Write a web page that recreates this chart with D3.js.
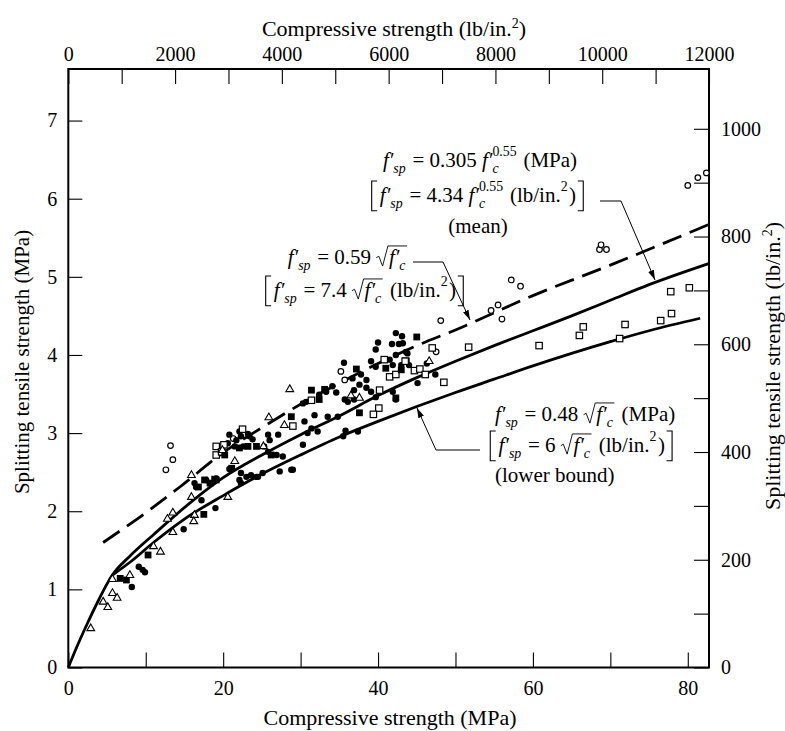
<!DOCTYPE html>
<html><head><meta charset="utf-8">
<script src="https://cdn.jsdelivr.net/npm/d3@7"></script>
<style>
body{margin:0;background:#fff;}
svg{display:block;}
text{font-family:"Liberation Serif","Times New Roman",serif;fill:#000;white-space:pre;}
</style>
</head><body>
<svg id="chart" width="785" height="731"></svg>
<script>
// ---------- data (MPa unless noted) ----------
const xTicksMPa = [0, 20, 40, 60, 80];
const xMinorMPa = [10, 30, 50, 70];
const xTicksPsi = [0, 2000, 4000, 6000, 8000, 10000, 12000];
const xMinorPsi = [1000, 3000, 5000, 7000, 9000, 11000];
const yTicksMPa = [0, 1, 2, 3, 4, 5, 6, 7];
const yTicksPsi = [0, 200, 400, 600, 800, 1000];
const yMinorPsi = [100, 300, 500, 700, 900];

const meanCurve = [[0,0],[1,0.24],[2.4,0.55],[4,0.88],[5.6,1.17],[8,1.43],[11,1.7],[16,2.13],[20,2.43],[25,2.72],[30,2.98],[35,3.22],[40,3.48],[45,3.71],[50,3.92],[55,4.12],[60,4.31],[65,4.5],[70,4.7],[75,4.9],[82.7,5.17]];
const lowerCurve = [[5.8,1.19],[8,1.35],[11,1.6],[15,1.9],[20,2.2],[24.7,2.46],[30,2.72],[35,2.95],[40,3.15],[45,3.34],[50,3.52],[55,3.69],[60,3.86],[65,4.02],[70,4.17],[75,4.31],[81.6,4.47]];
const dashedCurve = [[4.5,1.6],[10,1.98],[14.4,2.31],[20,2.75],[25,3.07],[30,3.37],[35,3.64],[40,3.89],[45,4.12],[50,4.32],[60,4.76],[70,5.15],[82.7,5.67]];

const openCircles = [[12.6,2.53],[13.2,2.84],[13.5,2.66],[21.3,2.93],[35.2,3.79],[35.7,3.68],[47.5,4.04],[48.1,4.44],[54.6,4.57],[55.5,4.64],[56.0,4.46],[57.2,4.96],[58.4,4.88],[68.6,5.35],[68.8,5.41],[69.5,5.35],[80.0,6.17],[81.3,6.27],[82.4,6.33]];
const triangles = [[2.9,0.5],[4.5,0.84],[5.1,0.77],[5.7,0.95],[6.3,0.89],[5.7,1.13],[7.95,1.18],[11.0,1.55],[11.9,1.48],[12.8,1.9],[13.5,1.98],[13.5,1.73],[15.9,2.18],[16.3,1.95],[16.2,1.87],[15.9,2.46],[20.6,2.18],[21.5,2.64],[19.9,2.78],[25.2,2.83],[25.9,3.2],[27.9,3.1],[28.6,3.56],[36.5,3.48],[37.6,3.45],[46.6,3.92]];
const filledCircles = [[8.2,1.03],[9.1,1.29],[9.6,1.25],[9.9,1.22],[14.9,1.77],[17.2,2.14],[19.0,2.04],[16.3,2.36],[16.5,2.31],[17.8,2.4],[19.1,2.42],[20.8,2.98],[21.7,2.91],[22.3,2.96],[23.2,2.99],[23.8,2.92],[22.3,2.49],[23.0,2.44],[22.3,2.36],[24.3,2.44],[20.8,2.54],
[42.3,4.28],[43.1,4.24],[40.0,4.16],[39.7,4.07],[41.8,4.14],[42.7,4.14],[43.6,4.04],[42.3,4.0],[35.6,3.9],[39.1,3.92],[39.7,3.85],[41.5,3.94],[41.9,3.87],[43.0,3.87],[44.0,3.87],[36.7,3.7],[37.8,3.75],[38.5,3.68],[37.6,3.62],[36.9,3.55],[38.5,3.58],[39.1,3.53],[39.7,3.46],[34.1,3.6],[33.3,3.53],[32.4,3.49],[34.6,3.52],[35.7,3.43],[36.1,3.4],[36.9,3.43],[41.9,3.53],[42.3,3.43],[45.1,3.64],[47.4,3.75],[31.8,3.23],[30.5,3.15],[31.4,3.06],[32.2,3.02],[30.9,3.0],[30.3,2.85],[33.5,3.21],[34.8,3.21],[35.8,3.03],[37.4,3.02],[30.3,3.38],[30.7,3.4],[25.3,2.83],[26.0,2.91],[25.8,2.76],[26.9,2.72],[27.7,2.7],[28.8,2.53],[25.8,2.98],[27.1,2.98],[35.5,2.96],[20.6,2.87],[21.5,2.83],[22.6,2.83],[23.4,2.96],[22.1,3.02],[23.6,2.46],[24.5,2.44],[25.1,2.49],[22.1,2.4],[27.3,2.51],[29.0,2.53],[46.3,3.89],[43.8,4.02],[43.2,4.15]];
const filledSquares = [[6.7,1.14],[7.5,1.12],[10.3,1.44],[17.5,1.96],[21.1,2.55],[18.9,2.41],[20.2,2.72],[24.3,2.83],[45.0,4.23],[37.2,3.82],[41.0,3.83],[43.0,3.81],[31.4,3.55],[33.1,3.56],[32.4,3.43],[37.6,3.26],[28.8,3.21],[42.3,3.45],[22.1,2.81],[23.2,2.83],[17.6,2.4],[18.3,2.36],[19.1,2.4],[16.8,2.31],[26.2,2.72]];
const openSquares = [[19.1,2.83],[19.1,2.72],[20.1,2.85],[19.8,2.76],[22.5,3.05],[31.4,3.42],[29.0,3.09],[40.2,3.55],[40.1,3.32],[39.4,3.24],[40.8,3.94],[41.5,3.72],[42.3,3.75],[43.6,3.92],[44.7,3.8],[45.4,3.82],[46.1,3.75],[43.5,3.92],[47.0,4.09],[48.5,3.65],[51.7,4.1],[60.8,4.12],[66.0,4.25],[66.5,4.36],[71.2,4.21],[71.9,4.39],[76.5,4.44],[77.9,4.53],[77.8,4.81],[80.2,4.86]];

// ---------- setup ----------
const svg = d3.select('#chart');
const FONT = '"Liberation Serif","Times New Roman",serif';
const L = 68.3, R = 709, T = 69, B = 667.5;
const MPA_TO_PSI = 145.038;
const yMax = 7.66;
const x = d3.scaleLinear().domain([0, 82.74]).range([L, R]);
const xPsi = d3.scaleLinear().domain([0, 12000]).range([L, R]);
const y = d3.scaleLinear().domain([0, yMax]).range([B, T]);
const yPsi = d3.scaleLinear().domain([0, yMax * MPA_TO_PSI]).range([B, T]);

function styleAxis(g) {
  g.select('.domain').remove();
  g.attr('font-family', FONT).attr('font-size', 20);
  g.selectAll('line').attr('stroke', '#000').attr('stroke-width', 1.1);
  g.selectAll('text').attr('fill', '#000');
}
const allX = xTicksMPa.concat(xMinorMPa).sort((a,b)=>a-b);
svg.append('g').attr('transform', `translate(0,${B})`)
  .call(d3.axisBottom(x).tickValues(allX).tickSize(-15).tickPadding(13)
    .tickFormat(d => xTicksMPa.includes(d) ? d : ''))
  .call(styleAxis);
const allXp = xTicksPsi.concat(xMinorPsi).sort((a,b)=>a-b);
svg.append('g').attr('transform', `translate(0,${T})`)
  .call(d3.axisTop(xPsi).tickValues(allXp).tickSize(-15).tickPadding(8)
    .tickFormat(d => xTicksPsi.includes(d) ? d : ''))
  .call(styleAxis);
svg.append('g').attr('transform', `translate(${L},0)`)
  .call(d3.axisLeft(y).tickValues(yTicksMPa).tickSize(-14).tickPadding(11))
  .call(styleAxis);
const allYp = yTicksPsi.concat(yMinorPsi).sort((a,b)=>a-b);
svg.append('g').attr('transform', `translate(${R},0)`)
  .call(d3.axisRight(yPsi).tickValues(allYp).tickSize(-15).tickPadding(12)
    .tickFormat(d => yTicksPsi.includes(d) ? d : ''))
  .call(styleAxis);

svg.append('rect').attr('x', L).attr('y', T).attr('width', R - L).attr('height', B - T)
  .attr('fill', 'none').attr('stroke', '#000').attr('stroke-width', 2);

// axis titles
const TS = 22;
const t1 = svg.append('text').attr('x', 394).attr('y', 36).attr('text-anchor', 'middle').attr('font-size', TS);
t1.append('tspan').text('Compressive strength (lb/in.');
t1.append('tspan').attr('dy', -8).attr('font-size', 14).text('2');
t1.append('tspan').attr('dy', 8).text(')');
svg.append('text').attr('x', 390).attr('y', 725).attr('text-anchor', 'middle').attr('font-size', TS)
  .text('Compressive strength (MPa)');
svg.append('text').attr('transform', 'translate(29,362) rotate(-90)').attr('text-anchor', 'middle').attr('font-size', 21)
  .text('Splitting tensile strength (MPa)');
const t4 = svg.append('text').attr('transform', 'translate(780,366) rotate(-90)').attr('text-anchor', 'middle').attr('font-size', TS);
t4.append('tspan').text('Splitting tensile strength (lb/in.');
t4.append('tspan').attr('dy', -8).attr('font-size', 14).text('2');
t4.append('tspan').attr('dy', 8).text(')');

// ---------- curves ----------
const line = d3.line().x(d => x(d[0])).y(d => y(d[1])).curve(d3.curveMonotoneX);
svg.append('path').attr('d', line(meanCurve)).attr('fill', 'none').attr('stroke', '#000').attr('stroke-width', 2.8);
svg.append('path').attr('d', line(lowerCurve)).attr('fill', 'none').attr('stroke', '#000').attr('stroke-width', 2.8);
svg.append('path').attr('d', line(dashedCurve)).attr('fill', 'none').attr('stroke', '#000').attr('stroke-width', 2.8)
  .attr('stroke-dasharray', '20,9');

// ---------- points ----------
const pts = svg.append('g');
pts.selectAll('.oc').data(openCircles).join('circle').attr('cx', d => x(d[0])).attr('cy', d => y(d[1]))
  .attr('r', 2.8).attr('fill', '#fff').attr('stroke', '#000').attr('stroke-width', 1.2);
pts.selectAll('.fc').data(filledCircles).join('circle').attr('cx', d => x(d[0])).attr('cy', d => y(d[1]))
  .attr('r', 3.2).attr('fill', '#000');
pts.selectAll('.os').data(openSquares).join('rect').attr('x', d => x(d[0]) - 3.2).attr('y', d => y(d[1]) - 3.2)
  .attr('width', 6.4).attr('height', 6.4).attr('fill', '#fff').attr('stroke', '#000').attr('stroke-width', 1.2);
pts.selectAll('.fs').data(filledSquares).join('rect').attr('x', d => x(d[0]) - 3.4).attr('y', d => y(d[1]) - 3.4)
  .attr('width', 6.8).attr('height', 6.8).attr('fill', '#000');
const tri = d3.symbol().type(d3.symbolTriangle).size(26);
pts.selectAll('.tr').data(triangles).join('path').attr('d', tri)
  .attr('transform', d => `translate(${x(d[0])},${y(d[1])})`)
  .attr('fill', '#fff').attr('stroke', '#000').attr('stroke-width', 1.1);

// ---------- formula annotations (one text element per line) ----------
const FS = 21;
const meas = svg.append('g').attr('visibility', 'hidden');
function textW(str, size, italic) {
  const t = meas.append('text').attr('font-size', size).style('font-style', italic ? 'italic' : 'normal').text(str);
  const w = t.node().getComputedTextLength(); t.remove(); return w;
}
function layout(pieces, cx0, base, out) {
  let cx = cx0;
  for (const p of pieces) cx += piece(p, cx, base, out);
  return cx - cx0;
}
function piece(p, cx, base, out) {
  if (p.t !== undefined) {
    const w = textW(p.t, FS, p.i);
    out.items.push({x: cx, y: base, size: FS, italic: !!p.i, text: p.t});
    return w + (p.k || 0);
  }
  if (p.sub !== undefined || p.sup !== undefined) {
    const s = FS * 0.66; let w = 0;
    if (p.sub) {
      w = Math.max(w, textW(p.sub, s, true));
      out.items.push({x: cx, y: base + FS * 0.3, size: s, italic: true, text: p.sub});
    }
    if (p.sup) {
      w = Math.max(w, textW(p.sup, s, false));
      out.items.push({x: cx, y: base - FS * 0.52, size: s, italic: false, text: p.sup});
    }
    return w + 1.5;
  }
  if (p.sqrt) {
    const rw = FS * 0.6;
    const inner = layout(p.sqrt, cx + rw, base, out);
    const top = base - FS * 0.86;
    out.paths.push({d: `M${cx},${base - FS*0.3} L${cx + FS*0.12},${base - FS*0.37} L${cx + FS*0.3},${base + FS*0.1} L${cx + rw - 1},${top} L${cx + rw + inner},${top}`, w: 0.9});
    return rw + inner + 2;
  }
  if (p.br) {
    const w = FS * 0.45;
    const top = base - FS * 1.0, bot = base + FS * 0.42;
    const d = p.br === '['
      ? `M${cx + FS*0.32},${top} L${cx + FS*0.06},${top} L${cx + FS*0.06},${bot} L${cx + FS*0.32},${bot}`
      : `M${cx + FS*0.08},${top} L${cx + FS*0.34},${top} L${cx + FS*0.34},${bot} L${cx + FS*0.08},${bot}`;
    out.paths.push({d, w: 1.1});
    return w;
  }
  return 0;
}
function formula(pieces, xPos, base, anchor) {
  const out = {items: [], paths: []};
  const w = layout(pieces, 0, base, out);
  const x0 = anchor === 'middle' ? xPos - w / 2 : (anchor === 'end' ? xPos - w : xPos);
  const g = svg.append('g').attr('transform', `translate(${x0},0)`);
  const t = g.append('text').attr('font-size', FS);
  out.items.forEach(it => t.append('tspan').attr('x', it.x).attr('y', it.y).attr('font-size', it.size)
    .style('font-style', it.italic ? 'italic' : 'normal').text(it.text));
  out.paths.forEach(p => g.append('path').attr('d', p.d).attr('fill', 'none').attr('stroke', '#000').attr('stroke-width', p.w));
}
const fsp = [{t:'f\u2032', i:true}, {sub:'sp'}];
const fc = [{t:'f\u2032', i:true}, {sub:'c'}];
const fc55 = [{t:'f\u2032', i:true}, {sub:'c', sup:'0.55'}];
const psiUnit = [{t:' (lb/in.'}, {sup:'2'}, {t:')'}];

// mean
formula([...fsp, {t:' = 0.305 '}, ...fc55, {t:' (MPa)'}], 480, 167, 'middle');
formula([{br:'['}, ...fsp, {t:' = 4.34 '}, ...fc55, ...psiUnit, {br:']'}], 478, 202, 'middle');
formula([{t:'(mean)'}], 478, 233, 'middle');
// dashed
formula([...fsp, {t:' = 0.59 '}, {sqrt: fc}], 409, 264, 'end');
formula([{br:'['}, ...fsp, {t:' = 7.4 '}, {sqrt: fc}, ...psiUnit, {br:']'}], 365, 297, 'middle');
// lower bound
formula([...fsp, {t:' = 0.48 '}, {sqrt: fc}, {t:' (MPa)'}], 495, 421, 'start');
formula([{br:'['}, ...fsp, {t:' = 6 '}, {sqrt: fc}, ...psiUnit, {br:']'}], 489, 452, 'start');
formula([{t:'(lower bound)'}], 495, 482, 'start');

// leaders with arrows
const defs = svg.append('defs');
defs.append('marker').attr('id', 'arr').attr('viewBox', '0 0 10 6').attr('refX', 10).attr('refY', 3)
  .attr('markerWidth', 10).attr('markerHeight', 6).attr('markerUnits', 'userSpaceOnUse').attr('orient', 'auto')
  .append('path').attr('d', 'M0,0 L10,3 L0,6 Z').attr('fill', '#000');
function leader(ptsArr) {
  svg.append('path').attr('d', d3.line()(ptsArr)).attr('fill', 'none').attr('stroke', '#000')
    .attr('stroke-width', 1).attr('marker-end', 'url(#arr)');
}
leader([[600, 201], [621, 201], [655, 280]]);
leader([[413, 262], [443, 262], [470, 320]]);
leader([[480, 450], [436, 450], [417, 408]]);
</script>
</body></html>
